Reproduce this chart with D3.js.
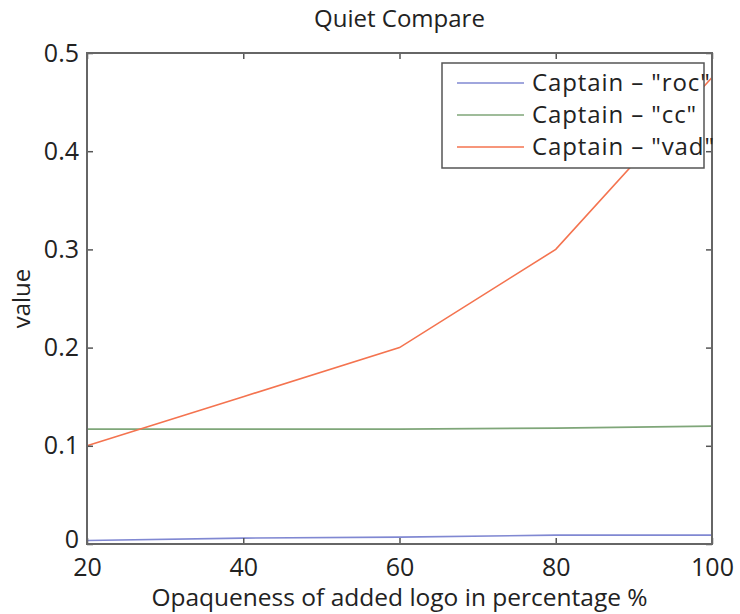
<!DOCTYPE html>
<html>
<head>
<meta charset="utf-8">
<script src="https://d3js.org/d3.v7.min.js"></script>
<style>
  body { margin: 0; background: #fff; }
  svg text { font-family: "Open Sans", sans-serif; fill: #222; }
  .axis path { display: none; }
  .axis line { stroke: #555; stroke-width: 1.5; }
</style>
</head>
<body>
<div id="chart"></div>
<script>
// valores
var opacidade = [20, 40, 60, 80, 100];
var roc = [0.0035, 0.006, 0.007, 0.009, 0.009];
var cc = [0.117, 0.117, 0.117, 0.118, 0.120];
var vad = [0.10, 0.15, 0.20, 0.30, 0.475];
var nomes = ['Captain \u2013 "roc"', 'Captain \u2013 "cc"', 'Captain \u2013 "vad"'];
var cores = ["#8088d2", "#7fa679", "#f4734f"];
var xTicks = [20, 40, 60, 80, 100];
var yTicks = [0, 0.1, 0.2, 0.3, 0.4, 0.5];

var larguraSVG = 740, alturaSVG = 614;
var margin = {top: 53, right: 28, bottom: 70, left: 87};
var w = larguraSVG - margin.left - margin.right,
    h = alturaSVG - margin.top - margin.bottom;

var svg = d3.select("#chart").append("svg")
    .attr("width", larguraSVG)
    .attr("height", alturaSVG);

var g = svg.append("g")
    .attr("transform", "translate(" + margin.left + "," + margin.top + ")");

var x = d3.scaleLinear().domain([20, 100]).range([0, w]);
var y = d3.scaleLinear().domain([0, 0.5]).range([h, 0]);

var series = [roc, cc, vad];

var linha = d3.line()
    .x(function(d, i) { return x(opacidade[i]); })
    .y(function(d) { return y(d); });

g.selectAll(".serie")
  .data(series)
  .enter().append("path")
    .attr("class", "serie")
    .attr("d", function(d) { return linha(d); })
    .attr("fill", "none")
    .attr("stroke", function(d, i) { return cores[i]; })
    .attr("stroke-width", 1.6);

// eixos com ticks para dentro
g.append("g").attr("class", "axis")
  .attr("transform", "translate(0," + h + ")")
  .call(d3.axisBottom(x).tickValues(xTicks).tickSizeInner(-6).tickSizeOuter(0).tickPadding(14))
  .selectAll("text").style("font-size", "25px").attr("dy", "0.71em");

g.append("g").attr("class", "axis")
  .call(d3.axisTop(x).tickValues(xTicks).tickSizeInner(-6).tickSizeOuter(0).tickFormat(""));

g.append("g").attr("class", "axis")
  .call(d3.axisLeft(y).tickValues(yTicks).tickSizeInner(-6).tickSizeOuter(0).tickPadding(8)
        .tickFormat(function(d) { return d === 0 ? "0" : d3.format(".1f")(d); }))
  .selectAll("text")
    .style("font-size", "25px")
    .attr("dy", function(d) { return d === 0 ? "0.12em" : "0.32em"; });

g.append("g").attr("class", "axis")
  .attr("transform", "translate(" + w + ",0)")
  .call(d3.axisRight(y).tickValues(yTicks).tickSizeInner(-6).tickSizeOuter(0).tickFormat(""));

g.append("rect")
  .attr("width", w).attr("height", h)
  .attr("fill", "none")
  .attr("stroke", "#666")
  .attr("stroke-width", 2);

// legenda
var leg = g.append("g").attr("transform", "translate(" + (442 - margin.left) + "," + (63 - margin.top) + ")");
leg.append("rect")
  .attr("width", 262).attr("height", 105)
  .attr("fill", "#fff")
  .attr("stroke", "#555")
  .attr("stroke-width", 1.5);
nomes.forEach(function(n, i) {
  var yy = 20 + i * 32;
  leg.append("line")
    .attr("x1", 15).attr("x2", 82)
    .attr("y1", yy).attr("y2", yy)
    .attr("stroke", cores[i]).attr("stroke-width", 1.6);
  leg.append("text")
    .attr("x", 90).attr("y", yy)
    .attr("dy", "0.35em")
    .style("font-size", "24px")
    .style("letter-spacing", "0.9px")
    .text(n);
});

// textos
svg.append("text")
  .attr("x", margin.left + w / 2).attr("y", 27)
  .attr("text-anchor", "middle")
  .style("font-size", "24px")
  .text("Quiet Compare");

svg.append("text")
  .attr("x", margin.left + w / 2).attr("y", 606)
  .attr("text-anchor", "middle")
  .style("font-size", "24.5px")
  .text("Opaqueness of added logo in percentage %");

svg.append("text")
  .attr("transform", "translate(30," + (margin.top + h / 2) + ") rotate(-90)")
  .attr("text-anchor", "middle")
  .style("font-size", "24px")
  .text("value");
</script>
</body>
</html>
